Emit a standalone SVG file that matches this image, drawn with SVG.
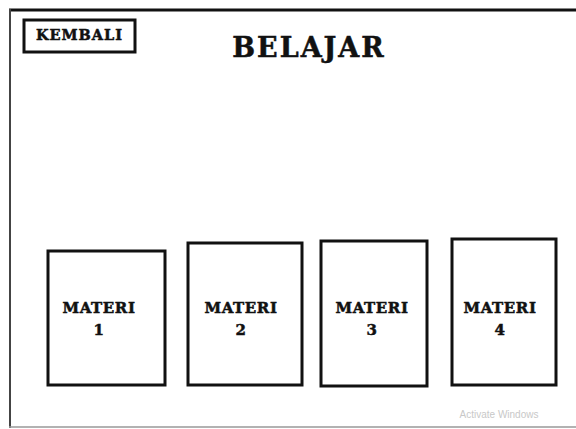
<svg xmlns="http://www.w3.org/2000/svg" width="576" height="429" viewBox="0 0 576 429">
<style>
.box{fill:#fff;stroke:#111;stroke-width:3}
.t{font-family:"DejaVu Serif","Liberation Serif",serif;font-weight:bold;fill:#111;stroke:#111;stroke-width:0.5;text-anchor:middle}
.m{font-size:15px;letter-spacing:0.6px}
</style>
<rect width="576" height="429" fill="#fff"/>
<g id="frame">
<line x1="9" y1="10" x2="576" y2="10" stroke="#111" stroke-width="3"/>
<line x1="10" y1="9" x2="10" y2="428" stroke="#444" stroke-width="2"/>
<line x1="9" y1="427" x2="576" y2="427" stroke="#999" stroke-width="1.5"/>
</g>
<g id="kembali">
<rect x="24" y="20" width="111" height="32" class="box" stroke-width="2.5"/>
<text x="79.5" y="40" class="t" font-size="14.5" letter-spacing="1">KEMBALI</text>
</g>
<g id="title">
<text x="309" y="57" class="t" font-size="27" letter-spacing="2">BELAJAR</text>
</g>
<g id="materi1">
<rect x="48" y="251" width="117" height="134" class="box"/>
<text x="99" y="313" class="t m">MATERI</text>
<text x="99" y="335" class="t m">1</text>
</g>
<g id="materi2">
<rect x="188" y="243" width="114" height="142" class="box"/>
<text x="241" y="313" class="t m">MATERI</text>
<text x="241" y="335" class="t m">2</text>
</g>
<g id="materi3">
<rect x="321" y="241" width="106" height="145" class="box"/>
<text x="372" y="313" class="t m">MATERI</text>
<text x="372" y="335" class="t m">3</text>
</g>
<g id="materi4">
<rect x="452" y="239" width="104" height="146" class="box"/>
<text x="500" y="313" class="t m">MATERI</text>
<text x="500" y="335" class="t m">4</text>
</g>
<text x="499" y="418" font-family="'Liberation Sans Narrow','Liberation Sans',sans-serif" font-size="10" fill="#c8c8c8" text-anchor="middle">Activate Windows</text>
</svg>
